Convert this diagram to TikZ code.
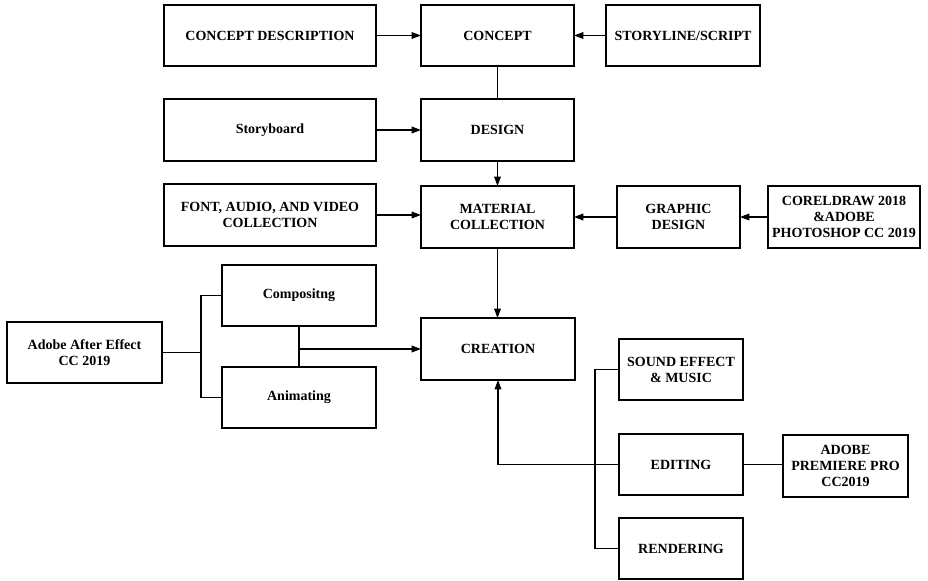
\documentclass[tikz,border=0pt]{standalone}
\usepackage{fontspec}
\setmainfont{Liberation Serif}
\usetikzlibrary{arrows.meta}
\tikzset{
  box/.style={draw, line width=0.9pt, inner sep=1pt, outer sep=0pt, align=center,
    font=\fontsize{10.5}{12}\selectfont\bfseries},
  conn/.style={line width=0.9pt},
  arr/.style={conn, -{Triangle[length=7pt,width=5pt]}}
}
\newcommand\bx[6]{\node[box, minimum width={(#4-#2)*0.75pt}, minimum height={(#5-#3)*0.75pt}] (#1) at ({(#2+#4)/2},{(#3+#5)/2}) {#6};}
\begin{document}
\begin{tikzpicture}[x=0.75pt,y=-0.75pt]
\useasboundingbox (0,0) rectangle (928,581);
\bx{cd}{164}{5}{376}{66}{CONCEPT DESCRIPTION}
\bx{concept}{421}{5}{574}{66}{CONCEPT}
\bx{story}{606}{5}{760}{66}{STORYLINE/SCRIPT}
\bx{sb}{164}{99}{376}{161}{Storyboard}
\bx{design}{421}{99}{574}{161}{DESIGN}
\bx{font}{164}{184}{376}{246}{FONT, AUDIO, AND VIDEO\\COLLECTION}
\bx{material}{421}{186}{574}{248}{MATERIAL\\COLLECTION}
\bx{graphic}{617}{186}{740}{248}{GRAPHIC\\DESIGN}
\bx{corel}{768}{186}{920}{248}{CORELDRAW 2018\\\&ADOBE\\PHOTOSHOP CC 2019}
\bx{comp}{222}{265}{376}{326}{Compositng}
\bx{anim}{222}{367}{376}{428}{Animating}
\bx{ae}{7}{322}{162}{383}{Adobe After Effect\\CC 2019}
\bx{creation}{421}{318}{575}{380}{CREATION}
\bx{sound}{619}{339}{743}{400}{SOUND EFFECT\\\& MUSIC}
\bx{edit}{619}{434}{743}{495}{EDITING}
\bx{prem}{783}{435}{908}{497}{ADOBE\\PREMIERE PRO\\CC2019}
\bx{rend}{619}{518}{743}{579}{RENDERING}

\draw[arr] (cd.east) -- (cd.east -| concept.west);
\draw[arr] (story.west) -- (story.west -| concept.east);
\draw[conn] (concept.south) -- (design.north);
\draw[arr] (sb.east) -- (sb.east -| design.west);
\draw[arr] (design.south) -- (material.north);
\draw[arr] (font.east) -- (font.east -| material.west);
\draw[arr] (graphic.west) -- (graphic.west -| material.east);
\draw[arr] (corel.west) -- (corel.west -| graphic.east);
\draw[arr] (material.south) -- (material.south |- creation.north);

\coordinate (brk) at (201,352);
\draw[conn] (comp.west) -- (comp.west -| brk) -- (anim.west -| brk) -- (anim.west);
\draw[conn] (ae.east) -- (ae.east -| brk);
\draw[conn] (comp.south) -- (anim.north);
\coordinate (jn) at (comp.south |- creation.west);
\draw[arr] (jn) -- (creation.west);

\coordinate (brk2) at (595,465);
\draw[conn] (sound.west) -- (sound.west -| brk2) -- (rend.west -| brk2) -- (rend.west);
\draw[arr] (edit.west) -| (creation.south);
\draw[conn] (edit.east) -- (edit.east -| prem.west);
\end{tikzpicture}
\end{document}
